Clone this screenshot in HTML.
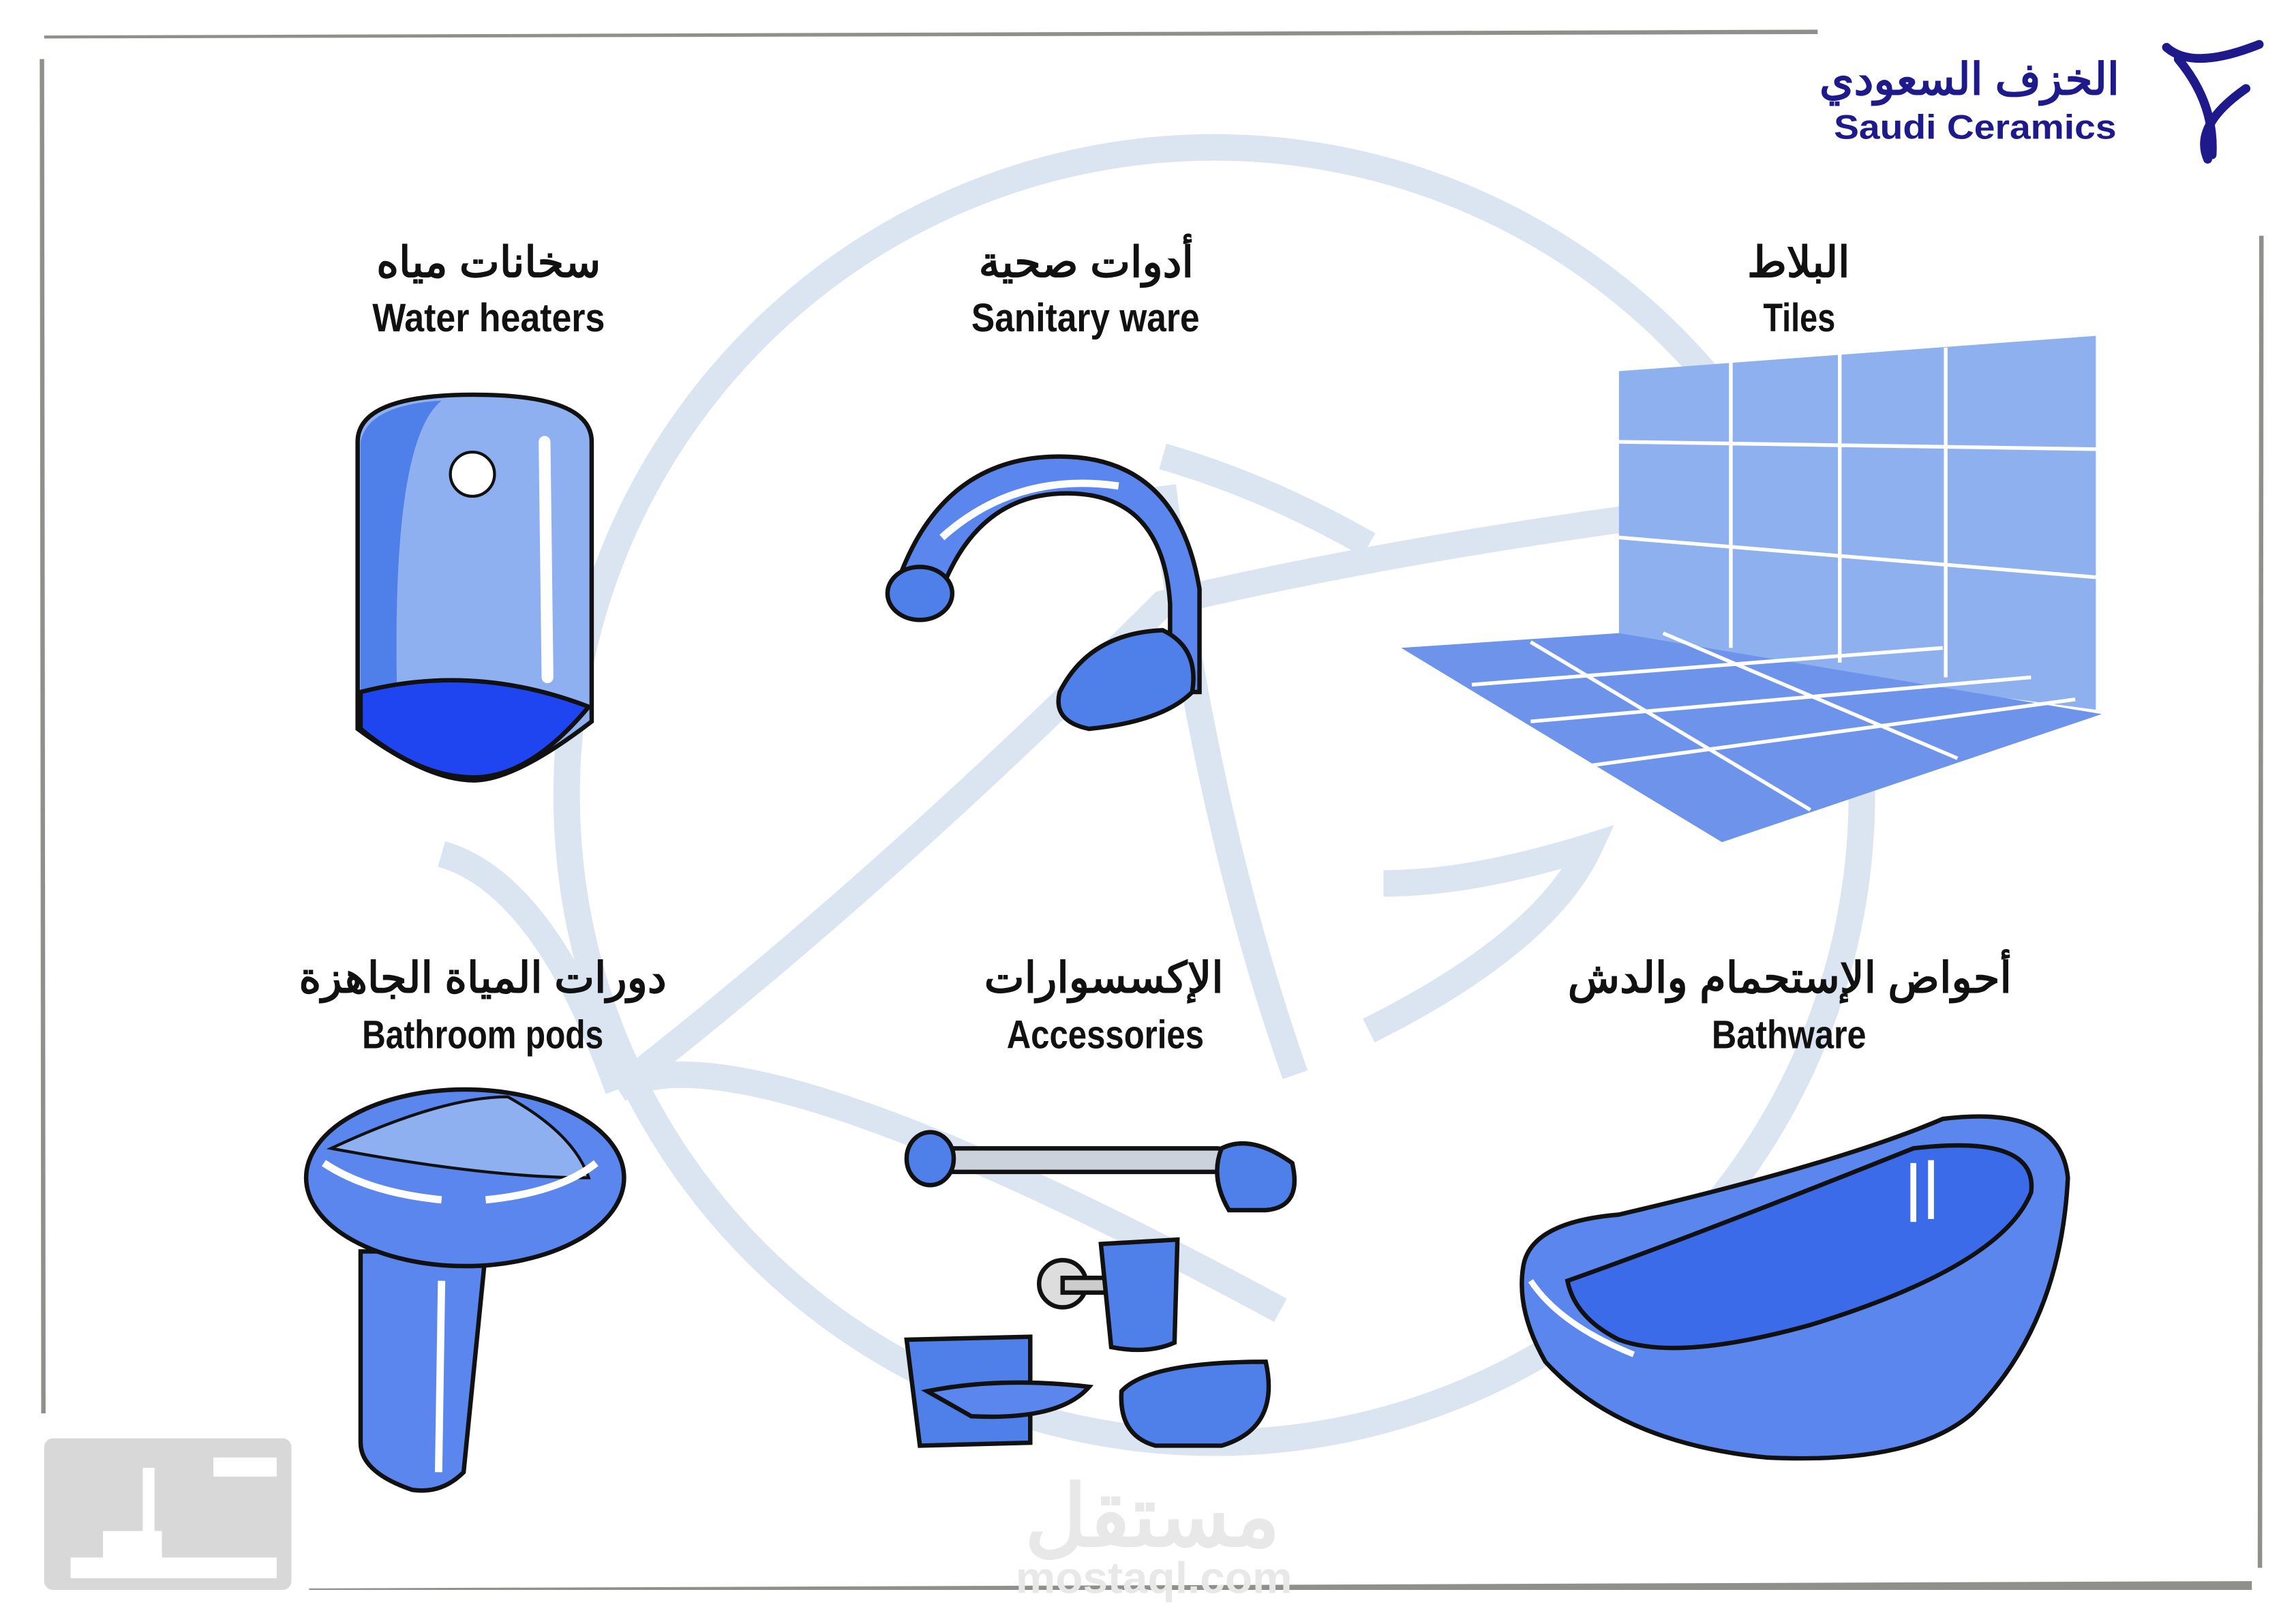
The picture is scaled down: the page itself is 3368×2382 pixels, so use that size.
<!DOCTYPE html>
<html><head><meta charset="utf-8"><style>
html,body{margin:0;padding:0;background:#fff}
svg{display:block}
.ar{font-family:"Liberation Sans","Noto Sans CJK SC",sans-serif;font-weight:bold;font-size:29px;fill:#111}
.en{font-family:"Liberation Sans",sans-serif;font-weight:bold;font-size:27px;fill:#111}
</style></head><body>
<svg width="3368" height="2382" viewBox="0 0 1560 1103" xmlns="http://www.w3.org/2000/svg">
<path d="M30 24 L1235 20 L1235 23 L30 26Z" fill="#8f8f8c"/>
<path d="M27 40 L30 40 L31 960 L28 960Z" fill="#8f8f8c"/>
<path d="M1535 160 L1538 160 L1537 1065 L1534 1065Z" fill="#8f8f8c"/>
<path d="M210 1079 L1530 1074 L1530 1080 L210 1080Z" fill="#8f8f8c"/>
<g fill="none" stroke="#dbe5f2" stroke-width="18">
<circle cx="825" cy="540" r="440"/>
<path d="M420 740 Q600 600 790 410 Q1000 360 1290 330"/>
<path d="M420 740 Q500 690 870 890"/>
<path d="M790 310 Q860 330 930 370"/>
<path d="M790 330 Q820 560 880 730"/>
<path d="M930 700 Q1050 640 1080 575 Q1000 600 940 600"/>
<path d="M300 580 Q370 600 420 740"/>
</g>
<text x="1440" y="64" text-anchor="end" style="font-family:'Liberation Sans','Noto Sans CJK SC',sans-serif;font-weight:bold;font-size:30px;fill:#1e1a8c">الخزف السعودي</text>
<text x="1246" y="94" style="font-family:'Liberation Sans',sans-serif;font-weight:bold;font-size:23px;fill:#1e1a8c" textLength="192" lengthAdjust="spacingAndGlyphs">Saudi Ceramics</text>
<g fill="none" stroke="#1e1a8c" stroke-width="6" stroke-linecap="round">
<path d="M1472 32 Q1490 48 1535 30"/>
<path d="M1526 60 Q1490 85 1500 108"/>
<path d="M1480 40 Q1505 70 1503 105"/>
</g>
<text class="ar" x="332" y="188" text-anchor="middle">سخانات مياه</text>
<text class="en" x="253" y="225" textLength="158" lengthAdjust="spacingAndGlyphs">Water heaters</text>
<text class="ar" x="738" y="188" text-anchor="middle">أدوات صحية</text>
<text class="en" x="660" y="225" textLength="155" lengthAdjust="spacingAndGlyphs">Sanitary ware</text>
<text class="ar" x="1222" y="188" text-anchor="middle">البلاط</text>
<text class="en" x="1198" y="225" textLength="49" lengthAdjust="spacingAndGlyphs">Tiles</text>
<text class="ar" x="328" y="674" text-anchor="middle">دورات المياة الجاهزة</text>
<text class="en" x="246" y="712" textLength="164" lengthAdjust="spacingAndGlyphs">Bathroom pods</text>
<text class="ar" x="750" y="674" text-anchor="middle">الإكسسوارات</text>
<text class="en" x="684" y="712" textLength="134" lengthAdjust="spacingAndGlyphs">Accessories</text>
<text class="ar" x="1216" y="674" text-anchor="middle">أحواض الإستحمام والدش</text>
<text class="en" x="1163" y="712" textLength="105" lengthAdjust="spacingAndGlyphs">Bathware</text>
<g stroke="#111" stroke-width="3">
<path d="M243 300 Q243 268 322 268 Q402 268 402 300 L402 490 Q350 530 322 530 Q290 530 243 495Z" fill="#8fb0f0"/>
<path d="M245 300 Q250 275 300 272 Q265 300 270 480 L245 495Z" fill="#4f7fe8" stroke="none"/>
<path d="M245 470 Q322 450 400 480 Q360 528 322 528 Q285 528 245 495Z" fill="#1f45f0"/>
<circle cx="321" cy="322" r="15" fill="#fff" stroke-width="2"/>
</g>
<path d="M370 300 L372 460" stroke="#fff" stroke-width="8" stroke-linecap="round"/>
<g stroke="#111" stroke-width="3">
<path d="M610 395 Q640 310 720 310 Q800 310 815 400 L815 470 L795 470 L795 410 Q790 335 725 335 Q665 335 640 400Z" fill="#5a86ee"/>
<ellipse cx="625" cy="403" rx="22" ry="18" fill="#4f7fe8"/>
<path d="M720 470 Q740 430 790 428 Q815 440 810 470 Q790 490 740 495 Q715 490 720 470Z" fill="#4f7fe8"/>
</g>
<path d="M640 365 Q690 320 760 330" stroke="#fff" stroke-width="5" fill="none"/>
<path d="M1100 252 L1424 228 L1424 482 L1100 440Z" fill="#8fb0ef"/>
<path d="M952 440 L1100 430 L1428 485 L1170 572Z" fill="#6d94ea"/>
<g stroke="#fff" stroke-width="2.5" fill="none">
<path d="M1176 246 L1176 440 M1250 240 L1250 450 M1322 236 L1322 460 M1100 300 L1424 305 M1100 365 L1424 392"/>
<path d="M1000 465 L1320 440 M1040 490 L1380 460 M1080 520 L1410 475 M1040 436 L1230 550 M1130 430 L1330 515"/>
</g>
<g stroke="#111" stroke-width="3">
<path d="M245 850 L330 850 L315 1000 Q300 1015 280 1012 Q245 1000 245 980Z" fill="#5a86ee"/>
<ellipse cx="316" cy="800" rx="108" ry="60" fill="#5a86ee"/>
<path d="M225 780 Q300 745 345 745 Q390 770 400 800 Q330 800 225 780Z" fill="#8fb0f0" stroke-width="2"/>
</g>
<path d="M220 790 Q250 810 300 815 M330 815 Q380 810 405 790 M300 870 L298 1000" stroke="#fff" stroke-width="5" fill="none"/>
<g stroke="#111" stroke-width="3">
<rect x="635" y="780" width="200" height="16" rx="8" fill="#ccd2dc"/>
<ellipse cx="632" cy="787" rx="16" ry="18" fill="#4f7fe8"/>
<path d="M830 780 Q850 770 878 790 Q885 820 860 822 L835 822 Q822 800 830 780Z" fill="#4f7fe8"/>
<circle cx="722" cy="872" r="16" fill="#ddd"/>
<rect x="722" y="868" width="35" height="10" fill="#ccc"/>
<path d="M748 845 L800 842 L798 912 Q780 920 755 915Z" fill="#4f7fe8"/>
<path d="M616 910 L700 908 L700 980 L625 982Z" fill="#4f7fe8"/>
<path d="M630 945 Q680 935 740 942 Q720 965 660 962Z" fill="#5a86ee"/>
<path d="M762 945 Q780 925 860 925 Q870 970 830 982 L785 982 Q760 975 762 945Z" fill="#4f7fe8"/>
</g>
<g stroke="#111" stroke-width="3">
<path d="M1035 860 Q1040 830 1100 825 Q1250 790 1320 760 Q1400 750 1405 800 Q1400 900 1340 960 Q1300 995 1200 990 Q1100 980 1050 925 Q1030 890 1035 860Z" fill="#5a86ee"/>
<path d="M1065 870 Q1150 840 1300 780 Q1385 770 1380 810 Q1360 860 1230 900 Q1140 925 1100 910 Q1070 895 1065 870Z" fill="#3b6be8"/>
</g>
<path d="M1040 870 Q1060 900 1110 920 M1300 790 L1300 830 M1312 788 L1312 828" stroke="#fff" stroke-width="4" fill="none"/>
<rect x="30" y="977" width="168" height="103" rx="6" fill="#d8d8d8"/>
<path d="M48 1058 L188 1058 L188 1072 L48 1072Z M97 997 L105 997 L105 1060 L97 1060Z M70 1040 L110 1040 L110 1058 L70 1058Z M145 990 L188 990 L188 1003 L145 1003Z" fill="#fff"/>
<text x="783" y="1050" text-anchor="middle" style="font-family:'Liberation Sans',sans-serif;font-weight:bold;font-size:58px;fill:#e8e8e8">مستقل</text>
<text x="690" y="1082" textLength="188" lengthAdjust="spacingAndGlyphs" style="font-family:'Liberation Sans',sans-serif;font-weight:bold;font-size:30px;fill:#e8e8e8">mostaql.com</text>
</svg>
</body></html>
